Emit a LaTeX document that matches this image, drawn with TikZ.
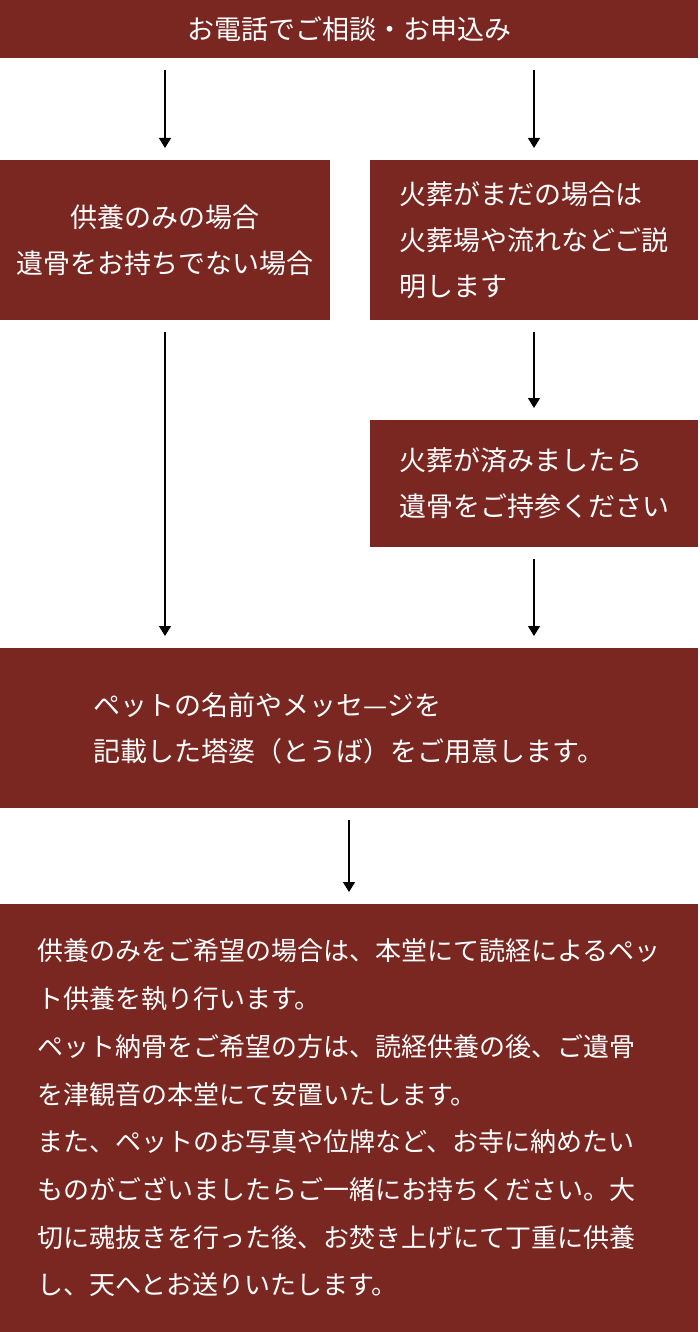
\documentclass[tikz,border=0pt]{standalone}
\usepackage{fontspec}
\usetikzlibrary{arrows.meta}
\newfontfamily\jp{Noto Sans CJK JP}
\definecolor{brn}{HTML}{7A2621}

\tikzstyle{bx} = [anchor = north west, inner sep = 0pt, outer sep = 0pt, fill = brn, text = white, font = \jp\fontsize{27}{46}\selectfont]
\tikzstyle{bl} = [bx, font = \jp\fontsize{26}{47.7}\selectfont]
\tikzstyle{ar} = [line width = 1.3pt, -{Triangle[width = 12pt, length = 10pt]}, shorten < = 12pt, shorten > = 12pt]

\begin{document}
\begin{tikzpicture}[x = 1pt, y = -1pt]
        \useasboundingbox (0,0) rectangle (700,1332);

        \node (tel) [bx, minimum width = 698pt, minimum height = 58pt] at (0,0) {お電話でご相談・お申込み};
        \node (only) [bx, minimum width = 330pt, minimum height = 160pt, align = center] at (0,160) {供養のみの場合\\遺骨をお持ちでない場合};
        \node (yet) [bx, minimum width = 328pt, minimum height = 160pt, align = left] at (370,160) {火葬がまだの場合は\\火葬場や流れなどご説\\明します};
        \node (done) [bx, minimum width = 328pt, minimum height = 127pt, align = left] at (370,420) {火葬が済みましたら\\遺骨をご持参ください};
        \node (toba) [bx, minimum width = 698pt, minimum height = 160pt, align = left] at (0,648) {ペットの名前やメッセ—ジを\\記載した塔婆（とうば）をご用意します。};
        \node (hall) [bl, minimum width = 698pt, minimum height = 428pt, align = left] at (0,904) {供養のみをご希望の場合は、本堂にて読経によるペッ\\ト供養を執り行います。\\ペット納骨をご希望の方は、読経供養の後、ご遺骨\\を津観音の本堂にて安置いたします。\\また、ペットのお写真や位牌など、お寺に納めたい\\ものがございましたらご一緒にお持ちください。大\\切に魂抜きを行った後、お焚き上げにて丁重に供養\\し、天へとお送りいたします。};

        \draw [ar] (tel.south -| only.north) -- (only.north);
        \draw [ar] (tel.south -| yet.north) -- (yet.north);
        \draw [ar] (yet.south) -- (done.north);
        \draw [ar] (only.south) -- (toba.north -| only.south);
        \draw [ar] (done.south) -- (toba.north -| done.south);
        \draw [ar] (toba.south) -- (hall.north);
    \end{tikzpicture}
\end{document}
